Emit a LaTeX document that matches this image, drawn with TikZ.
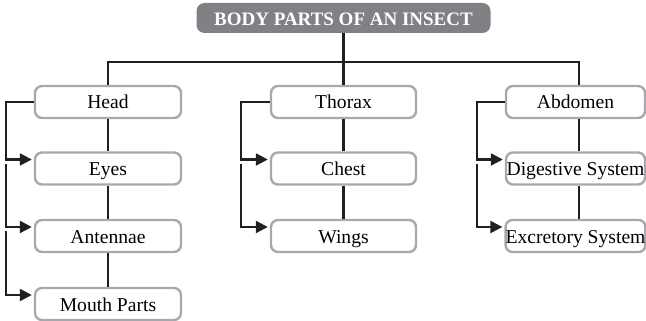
\documentclass[tikz,border=0pt]{standalone}
\usepackage{fontspec}
\setmainfont{Liberation Serif}
\usetikzlibrary{arrows.meta,calc}
\definecolor{boxgray}{HTML}{A7A9AC}
\definecolor{titlegray}{HTML}{808184}
\definecolor{linedark}{HTML}{231F20}
\begin{document}
\begin{tikzpicture}[x=1pt,y=-1pt,
  part/.style={draw=boxgray, line width=2.4pt, rounded corners=7pt, fill=white,
    minimum width=146pt, minimum height=32pt, inner sep=0pt,
    text height=14pt, text depth=0pt,
    font=\fontsize{19.6}{22}\selectfont, text=black},
  titlebox/.style={fill=titlegray, rounded corners=8pt, minimum width=294pt,
    minimum height=30pt, inner sep=0pt, text height=16pt, text depth=0pt,
    font=\fontsize{19}{22}\selectfont\bfseries, text=white},
  conn/.style={draw=linedark, line width=2.3pt},
  arr/.style={conn, -{Triangle[length=12pt,width=12pt]}, shorten >=2pt}]
\useasboundingbox (0,0) rectangle (646,321);

% title
\node[titlebox] (title) at (343.5,18) {BODY PARTS OF AN INSECT};

% head column
\node[part] (head) at (108,102) {Head};
\node[part] (eyes) at (108,168.5) {Eyes};
\node[part] (ant) at (108,236) {Antennae};
\node[part] (mouth) at (108,304) {Mouth Parts};

% thorax column
\node[part, minimum width=145pt] (thx) at (343.5,102) {Thorax};
\node[part, minimum width=145pt] (chest) at (343.5,168.5) {Chest};
\node[part, minimum width=145pt] (wings) at (343.5,236) {Wings};

% abdomen column
\node[part, minimum width=139pt] (abd) at (575.5,102) {Abdomen};
\node[part, minimum width=139pt] (dig) at (575.5,168.5) {Digestive System};
\node[part, minimum width=139pt] (exc) at (575.5,236) {Excretory System};

\coordinate (bar) at (0,62);
\coordinate (colC) at (579,0);

% top connectors
\draw[conn] (title.south) -- (thx.north);
\draw[conn] (head.north) -- (head.north |- bar) -- (colC |- bar) -- (colC |- abd.north);

% column verticals
\draw[conn] (head) -- (eyes);
\draw[conn] (eyes) -- (ant);
\draw[conn] (ant) -- (mouth);
\draw[conn] (thx) -- (chest);
\draw[conn] (chest) -- (wings);
\draw[conn] (abd.south -| colC) -- (dig.north -| colC);
\draw[conn] (dig.south -| colC) -- (exc.north -| colC);

% left bracket arrows
\draw[arr] (head.west) -- ++(-28,0) |- ([yshift=9pt]eyes.west);
\draw[arr] ($([yshift=5pt]eyes.west)+(-28,0)$) |- ([yshift=9pt]ant.west);
\draw[arr] ($([yshift=5pt]ant.west)+(-28,0)$) |- ([yshift=9pt]mouth.west);

\draw[arr] (thx.west) -- ++(-29,0) |- ([yshift=9pt]chest.west);
\draw[arr] ($([yshift=5pt]chest.west)+(-29,0)$) |- ([yshift=9pt]wings.west);

\draw[arr] (abd.west) -- ++(-28,0) |- ([yshift=9pt]dig.west);
\draw[arr] ($([yshift=5pt]dig.west)+(-28,0)$) |- ([yshift=9pt]exc.west);
\end{tikzpicture}
\end{document}
